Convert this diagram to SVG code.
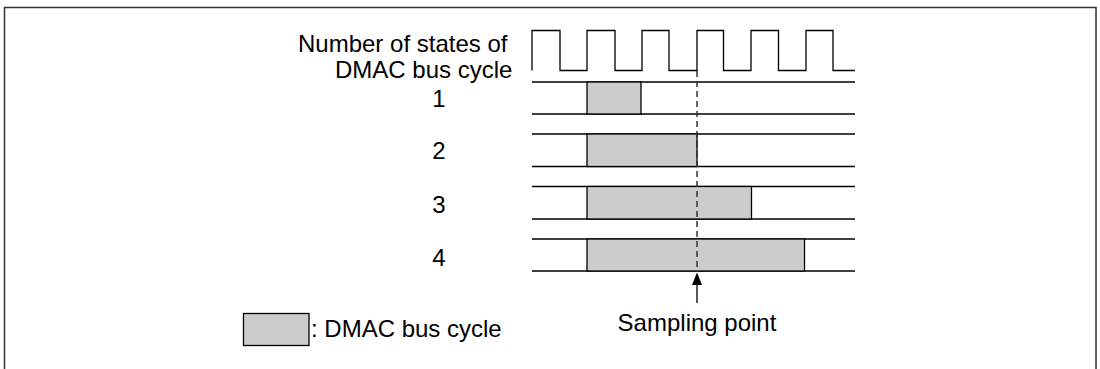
<svg xmlns="http://www.w3.org/2000/svg" width="1100" height="369" viewBox="0 0 1100 369">
<defs>
<style>
text{font-family:"Liberation Sans",Arial,sans-serif;font-size:24px;fill:#000}
.ln{stroke:#000;stroke-width:1.3;fill:none}
.bx{fill:#cccccc;stroke:#000;stroke-width:1.3}
.fr{stroke:#333;stroke-width:1.5;fill:none}
</style>
</defs>
<path class="fr" d="M4.5,369 V7.5 H1096 V369"/>
<g id="labels">
<text x="298" y="52">Number of states of</text>
<text x="335" y="78">DMAC bus cycle</text>
<text x="439" y="107" text-anchor="middle">1</text>
<text x="439" y="159" text-anchor="middle">2</text>
<text x="439" y="213" text-anchor="middle">3</text>
<text x="439" y="266" text-anchor="middle">4</text>
</g>
<g id="clock">
<path class="ln" d="M532,70.5 V30.5 H560 V70.5 H587 V30.5 H615 V70.5 H642 V30.5 H669 V70.5 H697 V30.5 H723.5 V70.5 H751 V30.5 H778.5 V70.5 H806 V30.5 H833 V70.5 H855"/>
</g>
<g id="row1">
<line class="ln" x1="532" y1="82" x2="855" y2="82"/>
<line class="ln" x1="532" y1="114" x2="855" y2="114"/>
<rect class="bx" x="587" y="82" width="54" height="32"/>
</g>
<g id="row2">
<line class="ln" x1="532" y1="134" x2="855" y2="134"/>
<line class="ln" x1="532" y1="166.5" x2="855" y2="166.5"/>
<rect class="bx" x="587" y="134" width="110" height="32.5"/>
</g>
<g id="row3">
<line class="ln" x1="532" y1="186.5" x2="855" y2="186.5"/>
<line class="ln" x1="532" y1="219" x2="855" y2="219"/>
<rect class="bx" x="587" y="186.5" width="164.5" height="32.5"/>
</g>
<g id="row4">
<line class="ln" x1="532" y1="239" x2="855" y2="239"/>
<line class="ln" x1="532" y1="271" x2="855" y2="271"/>
<rect class="bx" x="587" y="239" width="217.5" height="32"/>
</g>
<g id="connectors">
<line x1="697" y1="71" x2="697" y2="272" stroke="#333" stroke-width="1.5" stroke-dasharray="6,4"/>
<line x1="697" y1="303" x2="697" y2="284" stroke="#000" stroke-width="1.3"/>
<path d="M697,272.5 L692,285 L702,285 Z" fill="#000"/>
</g>
<g id="sampling">
<text x="697" y="331" text-anchor="middle">Sampling point</text>
</g>
<g id="legend">
<rect class="bx" x="243.5" y="313.5" width="65.5" height="32"/>
<text x="311" y="337">: DMAC bus cycle</text>
</g>
</svg>
